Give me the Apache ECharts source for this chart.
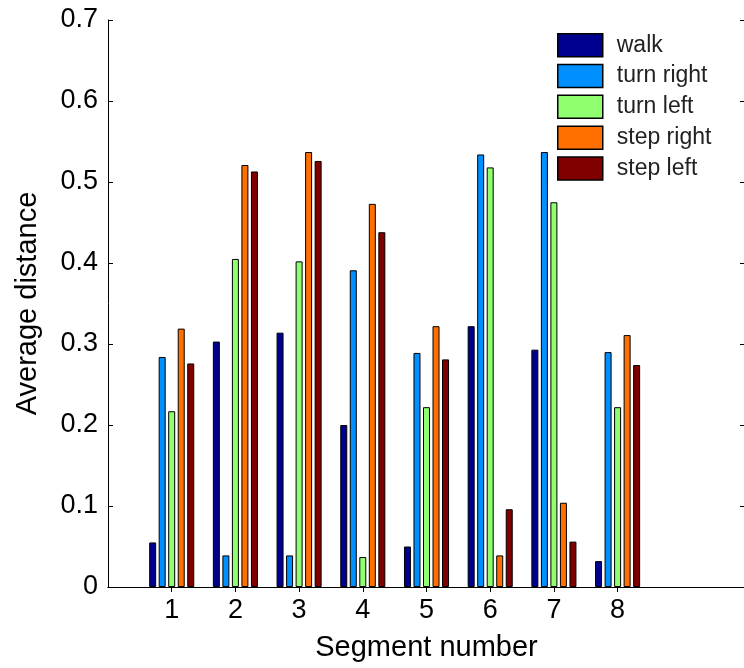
<!DOCTYPE html>
<html>
<head>
<meta charset="utf-8">
<script src="https://cdn.jsdelivr.net/npm/echarts@6/dist/echarts.min.js"></script>
<style>
  html, body { margin: 0; padding: 0; background: #fff; }
  #chart { width: 744px; height: 668px; }
</style>
</head>
<body>
<div id="chart"></div>
<script>
const myChart = echarts.init(document.getElementById('chart'));

// x positions 0..10, only 1..8 carry bars and labels
let segments = ['', '1', '2', '3', '4', '5', '6', '7', '8', '', ''];
let names = ['walk', 'turn right', 'turn left', 'step right', 'step left'];
let colors = ['#00008f', '#008fff', '#8fff70', '#ff7000', '#800000'];

let walk      = [null, 0.055, 0.303, 0.314, 0.200, 0.050, 0.322, 0.293, 0.032, null, null];
let turnRight = [null, 0.284, 0.039, 0.039, 0.391, 0.289, 0.534, 0.537, 0.290, null, null];
let turnLeft  = [null, 0.217, 0.405, 0.402, 0.037, 0.222, 0.518, 0.475, 0.222, null, null];
let stepRight = [null, 0.319, 0.521, 0.537, 0.473, 0.322, 0.039, 0.104, 0.311, null, null];
let stepLeft  = [null, 0.276, 0.513, 0.526, 0.438, 0.281, 0.096, 0.056, 0.274, null, null];

let values = [walk, turnRight, turnLeft, stepRight, stepLeft];

const font = 'Liberation Sans, Arial, sans-serif';
const tickOn = function (index) { return index >= 1 && index <= 8; };

let xBase = {
  type: 'category',
  data: segments,
  boundaryGap: false,
  axisLine: { show: true, lineStyle: { color: '#000', width: 1 } },
  axisTick: { show: true, inside: true, length: 5, interval: tickOn, lineStyle: { color: '#000' } },
  splitLine: { show: false }
};

let yBase = {
  type: 'value',
  min: 0,
  max: 0.7,
  interval: 0.1,
  axisLine: { show: true, lineStyle: { color: '#000', width: 1 } },
  axisTick: { show: true, inside: true, length: 5, lineStyle: { color: '#000' } },
  splitLine: { show: false }
};

let options = {
  animation: false,
  backgroundColor: '#fff',
  textStyle: { fontFamily: font },
  grid: {
    left: 108,
    top: 20,
    right: -1,
    bottom: 81,
    containLabel: false,
    outerBoundsMode: 'none'
  },
  legend: {
    orient: 'vertical',
    left: 557,
    top: 33,
    padding: 0,
    itemWidth: 45,
    itemHeight: 23,
    itemGap: 6.3,
    icon: 'rect',
    data: names,
    itemStyle: { borderColor: '#000', borderWidth: 1.5 },
    textStyle: { fontFamily: font, fontSize: 23, lineHeight: 23, color: '#222', padding: [0, 0, 0, 9] }
  },
  xAxis: [
    Object.assign({}, xBase, {
      position: 'bottom',
      name: 'Segment number',
      nameLocation: 'middle',
      nameGap: 46,
      nameTextStyle: { fontFamily: font, fontSize: 29, color: '#000' },
      axisLabel: { show: true, interval: 0, margin: 10, fontFamily: font, fontSize: 27, color: '#000' }
    }),
    Object.assign({}, xBase, {
      position: 'top',
      axisLabel: { show: false }
    })
  ],
  yAxis: [
    Object.assign({}, yBase, {
      position: 'left',
      name: 'Average distance',
      nameLocation: 'middle',
      nameGap: 66,
      nameTextStyle: { fontFamily: font, fontSize: 29, color: '#000' },
      axisLabel: { show: true, margin: 10, fontFamily: font, fontSize: 27, color: '#000' }
    }),
    Object.assign({}, yBase, {
      position: 'right',
      axisLabel: { show: false }
    })
  ],
  series: names.map(function (name, i) {
    return {
      name: name,
      type: 'bar',
      xAxisIndex: 0,
      yAxisIndex: 0,
      barWidth: 7,
      barGap: '36%',
      data: values[i],
      itemStyle: {
        color: colors[i],
        borderColor: '#000',
        borderWidth: 1
      }
    };
  })
};

myChart.setOption(options);
</script>
</body>
</html>
